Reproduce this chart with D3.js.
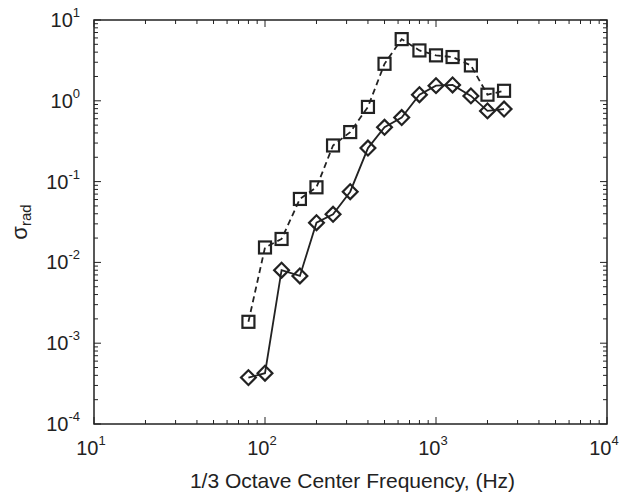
<!DOCTYPE html>
<html>
<head>
<meta charset="utf-8">
<script src="https://cdn.jsdelivr.net/npm/d3@7"></script>
<style>
  body { margin: 0; background: #fff; }
  text { font-family: "Liberation Sans", Arial, sans-serif; fill: #222; }
</style>
</head>
<body>
<div id="chart"></div>
<script>
// 1/3 octave centre frequencies (Hz)
var freqs = [80, 100, 125, 160, 200, 250, 315, 400, 500, 630, 800, 1000, 1250, 1600, 2000, 2500];
// dashed series, square markers
var squareVals = [0.00184, 0.0153, 0.0195, 0.061, 0.085, 0.28, 0.41, 0.84, 2.87, 5.8, 4.2, 3.65, 3.48, 2.74, 1.19, 1.33];
// solid series, diamond markers
var diamondVals = [0.000375, 0.000425, 0.0080, 0.0068, 0.031, 0.0394, 0.075, 0.26, 0.47, 0.62, 1.19, 1.54, 1.57, 1.15, 0.75, 0.79];
var xTicks = [10, 100, 1000, 10000];
var yTicks = [1e-4, 1e-3, 1e-2, 1e-1, 1, 10];

var width = 619, height = 495;
var margin = {top: 20, right: 12, bottom: 71, left: 94};
var ink = '#222';

var svg = d3.select('#chart')
  .append('svg')
  .attr('width', width)
  .attr('height', height);

var x = d3.scaleLog().domain([10, 10000]).range([margin.left, width - margin.right]);
var y = d3.scaleLog().domain([1e-4, 10]).range([height - margin.bottom, margin.top]);

var minorTicks = function (lo, hi) {
  var out = [];
  for (var e = lo; e < hi; e++) {
    for (var k = 2; k <= 9; k++) out.push(k * Math.pow(10, e));
  }
  return out;
};
var xMinor = minorTicks(1, 4);
var yMinor = minorTicks(-4, 1);

var x0 = x.range()[0], x1 = x.range()[1];
var y0 = y.range()[0], y1 = y.range()[1];

// ticks (inward, on all four sides)
var ticks = svg.append('g').attr('stroke', ink).attr('stroke-width', 1);
xTicks.concat(xMinor).forEach(function (v) {
  var len = xTicks.indexOf(v) >= 0 ? 7 : 4;
  ticks.append('line').attr('x1', x(v)).attr('x2', x(v)).attr('y1', y0).attr('y2', y0 - len);
  ticks.append('line').attr('x1', x(v)).attr('x2', x(v)).attr('y1', y1).attr('y2', y1 + len);
});
yTicks.concat(yMinor).forEach(function (v) {
  var len = yTicks.indexOf(v) >= 0 ? 7 : 4;
  ticks.append('line').attr('y1', y(v)).attr('y2', y(v)).attr('x1', x0).attr('x2', x0 + len);
  ticks.append('line').attr('y1', y(v)).attr('y2', y(v)).attr('x1', x1).attr('x2', x1 - len);
});

svg.append('rect')
  .attr('x', x0).attr('y', y1)
  .attr('width', x1 - x0).attr('height', y0 - y1)
  .attr('fill', 'none').attr('stroke', ink).attr('stroke-width', 1.5);

// tick labels as 10^n
var powLabel = function (sel, v) {
  var e = Math.round(Math.log10(v));
  sel.append('tspan').text('10');
  sel.append('tspan').attr('dy', -10).attr('font-size', 13).text(e);
};

xTicks.forEach(function (v) {
  var t = svg.append('text')
    .attr('x', x(v) - 3).attr('y', y0 + 31)
    .attr('text-anchor', 'middle').attr('font-size', 20);
  powLabel(t, v);
});

yTicks.forEach(function (v) {
  var t = svg.append('text')
    .attr('x', x0 - 14).attr('y', y(v) + 7)
    .attr('text-anchor', 'end').attr('font-size', 20);
  powLabel(t, v);
});

svg.append('text')
  .attr('x', (x0 + x1) / 2 + 2).attr('y', 488)
  .attr('text-anchor', 'middle').attr('font-size', 21)
  .text('1/3 Octave Center Frequency, (Hz)');

var yl = svg.append('text')
  .attr('transform', 'translate(27,' + ((y0 + y1) / 2) + ') rotate(-90)')
  .attr('text-anchor', 'middle').attr('font-size', 22);
yl.append('tspan').text('σ');
yl.append('tspan').attr('dy', 4).attr('font-size', 15).text('rad');

// series
var line = d3.line()
  .x(function (d) { return x(d[0]); })
  .y(function (d) { return y(d[1]); });

var sqData = d3.zip(freqs, squareVals);
var diData = d3.zip(freqs, diamondVals);

svg.append('path').datum(sqData)
  .attr('d', line).attr('fill', 'none')
  .attr('stroke', ink).attr('stroke-width', 1.8).attr('stroke-dasharray', '6,4');

svg.append('path').datum(diData)
  .attr('d', line).attr('fill', 'none')
  .attr('stroke', ink).attr('stroke-width', 1.8);

svg.selectAll('rect.sq').data(sqData).enter()
  .append('rect').attr('class', 'sq')
  .attr('x', function (d) { return x(d[0]) - 6; })
  .attr('y', function (d) { return y(d[1]) - 6; })
  .attr('width', 12).attr('height', 12)
  .attr('fill', 'none').attr('stroke', ink).attr('stroke-width', 2.2);

var diamond = d3.symbol().type(d3.symbolSquare).size(110);
svg.selectAll('path.di').data(diData).enter()
  .append('path').attr('class', 'di')
  .attr('d', diamond)
  .attr('transform', function (d) { return 'translate(' + x(d[0]) + ',' + y(d[1]) + ') rotate(45)'; })
  .attr('fill', 'none').attr('stroke', ink).attr('stroke-width', 2.2);
</script>
</body>
</html>
